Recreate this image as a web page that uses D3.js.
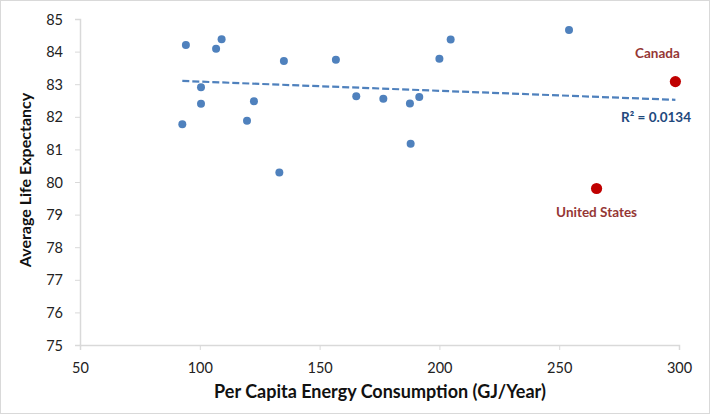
<!DOCTYPE html>
<html>
<head>
<meta charset="utf-8">
<script src="https://cdn.jsdelivr.net/npm/d3@7"></script>
<style>
  body { margin: 0; background: #fff; }
  text { font-family: Lato, "Open Sans", sans-serif; }
</style>
</head>
<body>
<script>
const w = 710;
const h = 414;

// per capita energy (GJ/yr) vs. life expectancy, other countries
const energy = [92.7, 94.2, 100.5, 100.5, 106.8, 109.1, 119.7, 122.6, 133.2, 135.1,
                156.8, 165.3, 176.6, 187.7, 188.0, 191.6, 200.0, 204.7, 254.1];
const life = [81.77, 84.20, 82.91, 82.40, 84.09, 84.38, 81.88, 82.48, 80.29, 83.71,
              83.75, 82.63, 82.55, 82.41, 81.17, 82.61, 83.78, 84.37, 84.66];

// highlighted countries
const hiNames = ["Canada", "United States"];
const hiEnergy = [298.5, 265.6];
const hiLife = [83.08, 79.80];

// linear trendline end points
const trendX = [92.7, 298.5];
const trendY = [83.10, 82.52];

const xTicks = [50, 100, 150, 200, 250, 300];
const yTicks = [75, 76, 77, 78, 79, 80, 81, 82, 83, 84, 85];
const r2Label = "R² = 0.0134";

let svg = d3.select("body")
  .append("svg")
    .attr("width", w)
    .attr("height", h);

svg.append("rect")
  .attr("x", 0.5).attr("y", 0.5)
  .attr("width", w - 1).attr("height", h - 1)
  .attr("fill", "#fff")
  .attr("stroke", "#d9d9d9");

let x = d3.scaleLinear().domain([50, 300]).range([80, 679]);
let y = d3.scaleLinear().domain([75, 85]).range([345, 19]);

// axes
let xAxis = svg.append("g")
  .attr("transform", "translate(0," + y(75) + ")")
  .call(d3.axisBottom(x).tickValues(xTicks).tickSize(5).tickPadding(8));
let yAxis = svg.append("g")
  .attr("transform", "translate(" + x(50) + ",0)")
  .call(d3.axisLeft(y).tickValues(yTicks).tickSize(5).tickPadding(12));

[xAxis, yAxis].forEach(g => {
  g.select(".domain").attr("stroke", "#d9d9d9").attr("stroke-width", 1.5);
  g.selectAll(".tick line").attr("stroke", "#d9d9d9");
  g.selectAll(".tick text")
    .attr("fill", "#222")
    .style("font-family", "Lato, sans-serif")
    .style("font-size", "14.5px");
});
xAxis.selectAll(".tick text").attr("dy", "1.05em");
yAxis.selectAll(".tick text").attr("dy", "0.35em");

// axis titles
svg.append("text")
  .attr("x", 380)
  .attr("y", 398)
  .attr("text-anchor", "middle")
  .attr("font-weight", "bold")
  .attr("font-size", 18)
  .attr("fill", "#111")
  .text("Per Capita Energy Consumption (GJ/Year)");

svg.append("text")
  .attr("transform", "translate(31,180) rotate(-90)")
  .attr("text-anchor", "middle")
  .attr("font-weight", "bold")
  .attr("font-size", 16)
  .attr("fill", "#111")
  .text("Average Life Expectancy");

// trendline
svg.append("line")
  .attr("x1", x(trendX[0])).attr("y1", y(trendY[0]))
  .attr("x2", x(trendX[1])).attr("y2", y(trendY[1]))
  .attr("stroke", "#4f81bd")
  .attr("stroke-width", 2.2)
  .attr("stroke-dasharray", "7,3");

svg.append("text")
  .attr("x", 691).attr("y", 122)
  .attr("text-anchor", "end")
  .attr("font-weight", "bold")
  .attr("font-size", 13.5)
  .attr("fill", "#1f497d")
  .text(r2Label);

// points
svg.selectAll("circle.pt")
  .data(energy)
  .enter()
  .append("circle")
    .attr("class", "pt")
    .attr("cx", d => x(d))
    .attr("cy", (d, i) => y(life[i]))
    .attr("r", 4)
    .attr("fill", "#4f81bd");

svg.selectAll("circle.hi")
  .data(hiEnergy)
  .enter()
  .append("circle")
    .attr("class", "hi")
    .attr("cx", d => x(d))
    .attr("cy", (d, i) => y(hiLife[i]))
    .attr("r", 5.6)
    .attr("fill", "#c00000");

// labels for highlighted countries
const labelDx = [-18, 0];
const labelDy = [-24, 28];
svg.selectAll("text.hi")
  .data(hiNames)
  .enter()
  .append("text")
    .attr("class", "hi")
    .attr("x", (d, i) => x(hiEnergy[i]) + labelDx[i])
    .attr("y", (d, i) => y(hiLife[i]) + labelDy[i])
    .attr("text-anchor", "middle")
    .attr("font-weight", "bold")
    .attr("font-size", 13.5)
    .attr("fill", "#953735")
    .text(d => d);
</script>
</body>
</html>
